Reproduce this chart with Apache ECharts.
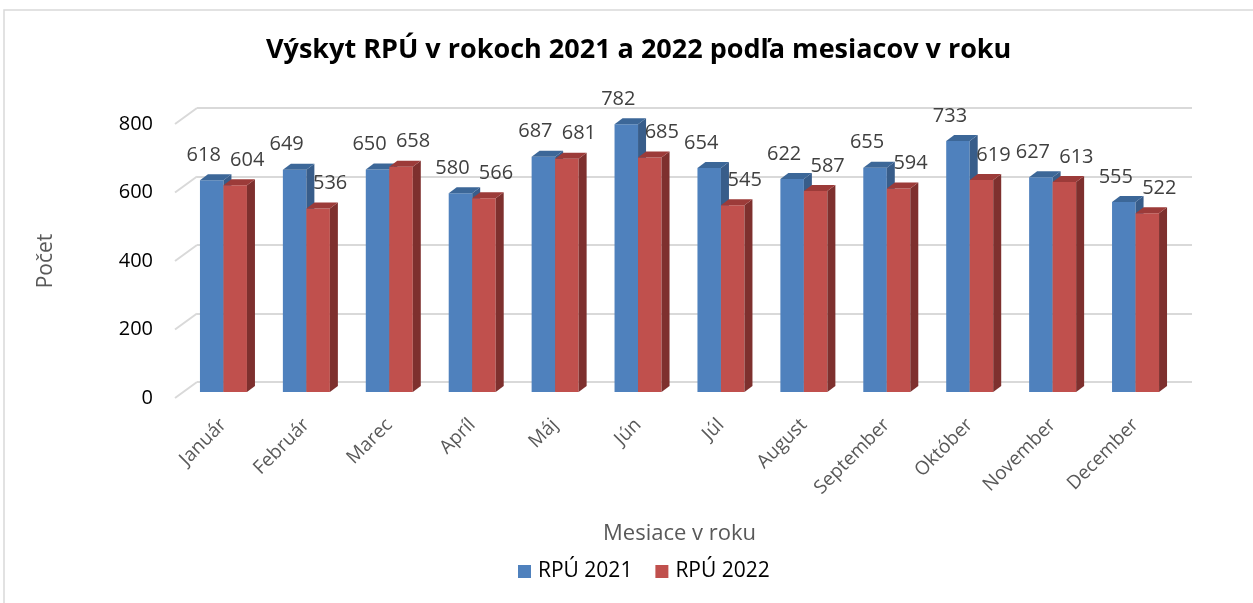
<!DOCTYPE html>
<html>
<head>
<meta charset="utf-8">
<title>Výskyt RPÚ</title>
<script src="https://cdn.jsdelivr.net/npm/echarts@6/dist/echarts.min.js"></script>
<style>
  html, body { margin: 0; padding: 0; background: #fff; }
  #chart { width: 1253px; height: 603px; }
</style>
</head>
<body>
<div id="chart"></div>
<script>
  // data
  var months = ['Január', 'Február', 'Marec', 'Apríl', 'Máj', 'Jún', 'Júl', 'August', 'September', 'Október', 'November', 'December']
  var rpu2021 = [618, 649, 650, 580, 687, 782, 654, 622, 655, 733, 627, 555]
  var rpu2022 = [604, 536, 658, 566, 681, 685, 545, 587, 594, 619, 613, 522]
  var yTicks = [0, 200, 400, 600, 800]

  var font = '"Open Sans", sans-serif'
  // front, side, top colours for each series
  var colors = [
    { front: '#4F81BD', side: '#385D8A', top: '#3C6798' },
    { front: '#C0504D', side: '#7E302E', top: '#9C3B39' }
  ]
  var barW = 23.5
  var depth = [8, -6]

  function bar3d(idx){
    return function(params, api){
      var cat = api.value(0)
      var val = api.value(1)
      var top = api.coord([cat, val])
      var base = api.coord([cat, 0])
      var x0 = idx == 0 ? top[0] - barW : top[0]
      var x1 = x0 + barW
      var yt = top[1], yb = base[1]
      var c = colors[idx]
      var dx = depth[0], dy = depth[1]
      var labelX = idx == 0 ? x0 + barW / 2 - 8 : x0 + barW / 2 + 12
      return {
        type: 'group',
        children: [
          { type: 'rect', shape: { x: x0, y: yt, width: barW, height: yb - yt }, style: { fill: c.front } },
          { type: 'polygon', shape: { points: [[x1, yt], [x1 + dx, yt + dy], [x1 + dx, yb + dy], [x1, yb]] }, style: { fill: c.side } },
          { type: 'polygon', shape: { points: [[x0, yt], [x1, yt], [x1 + dx, yt + dy], [x0 + dx, yt + dy]] }, style: { fill: c.top } },
          { type: 'text', x: labelX, y: yt - 25, style: { text: String(val), font: '20px ' + font, fill: '#404040', align: 'center', verticalAlign: 'middle' } }
        ]
      }
    }
  }

  var chart = echarts.init(document.getElementById('chart'))
  var option = {
    backgroundColor: '#fff',
    animation: false,
    title: {
      text: 'Výskyt RPÚ v rokoch 2021 a 2022 podľa mesiacov v roku',
      left: 261,
      top: 32,
      textStyle: { fontFamily: font, fontWeight: 'bold', fontSize: 27, color: '#000' }
    },
    legend: {
      bottom: 16,
      left: 513,
      icon: 'rect',
      itemWidth: 13,
      itemHeight: 13,
      itemGap: 23,
      textStyle: { fontFamily: font, fontSize: 21, color: '#000', padding: [0, 0, 0, 2] },
      data: [
        { name: 'RPÚ 2021', itemStyle: { color: colors[0].front } },
        { name: 'RPÚ 2022', itemStyle: { color: colors[1].front } }
      ]
    },
    graphic: [
      { type: 'rect', shape: { x: 4, y: 10, width: 1260, height: 600 }, style: { fill: null, stroke: '#d9d9d9', lineWidth: 1.5 }, silent: true }
    ],
    grid: [
      // back wall
      { left: 197, top: 108, width: 995, height: 274 },
      // bars
      { left: 182, top: 118, width: 995, height: 274 },
      // front plane (y labels)
      { left: 175, top: 124, width: 995, height: 274 }
    ],
    xAxis: [
      { gridIndex: 0, type: 'value', min: 0, max: 1, show: false },
      {
        gridIndex: 1, type: 'category', data: months,
        axisLine: { show: false }, axisTick: { show: false },
        axisLabel: { rotate: 45, margin: 30, fontFamily: font, fontSize: 19, color: '#595959' },
        name: 'Mesiace v roku', nameLocation: 'middle', nameGap: 131,
        nameTextStyle: { fontFamily: font, fontSize: 22, color: '#595959' }
      },
      { gridIndex: 2, type: 'category', data: months, show: false }
    ],
    yAxis: [
      {
        gridIndex: 0, type: 'value', min: 0, max: 800, interval: 200,
        axisLine: { show: false }, axisTick: { show: false }, axisLabel: { show: false },
        splitLine: { lineStyle: { color: '#d9d9d9', width: 2 } }
      },
      { gridIndex: 1, type: 'value', min: 0, max: 800, interval: 200, show: false },
      {
        gridIndex: 2, type: 'value', min: 0, max: 800, interval: 200,
        axisLine: { show: false }, axisTick: { show: false }, splitLine: { show: false },
        axisLabel: { margin: 22, fontFamily: font, fontSize: 20, color: '#000' },
        name: 'Počet', nameLocation: 'middle', nameGap: 118, nameRotate: 90,
        nameTextStyle: { fontFamily: font, fontSize: 21, color: '#595959' }
      }
    ],
    series: [
      {
        // side wall diagonals
        type: 'custom', xAxisIndex: 0, yAxisIndex: 0, silent: true,
        data: yTicks.map(function(v){ return [0, v] }),
        renderItem: function(params, api){
          var p = api.coord([0, api.value(1)])
          return { type: 'line', shape: { x1: p[0] - 22, y1: p[1] + 16, x2: p[0], y2: p[1] }, style: { stroke: '#d9d9d9', lineWidth: 2 } }
        }
      },
      {
        name: 'RPÚ 2021', type: 'custom', xAxisIndex: 1, yAxisIndex: 1,
        itemStyle: { color: colors[0].front },
        data: rpu2021.map(function(v, i){ return [i, v] }),
        renderItem: bar3d(0)
      },
      {
        name: 'RPÚ 2022', type: 'custom', xAxisIndex: 1, yAxisIndex: 1,
        itemStyle: { color: colors[1].front },
        data: rpu2022.map(function(v, i){ return [i, v] }),
        renderItem: bar3d(1)
      }
    ]
  }
  chart.setOption(option)
</script>
</body>
</html>
